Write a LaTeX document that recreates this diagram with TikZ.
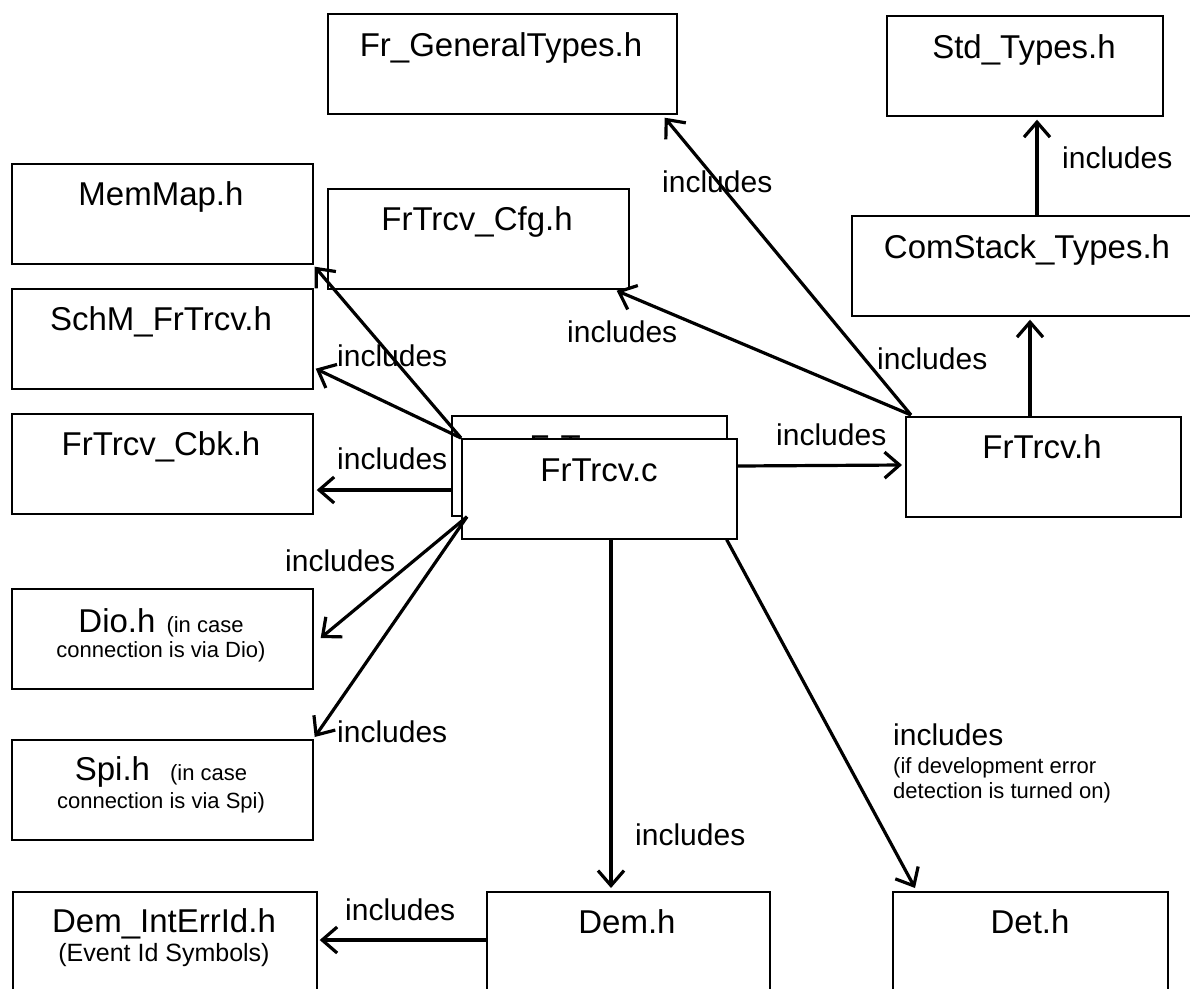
\documentclass[tikz,border=0pt]{standalone}
\usepackage{fontspec}
\setmainfont{Liberation Sans}
\usetikzlibrary{arrows.meta,calc}
\newcommand\FontBig{\fontsize{33}{40}\selectfont}
\newcommand\FontMid{\fontsize{30}{36}\selectfont}
\newcommand\FontSmall{\fontsize{22}{26}\selectfont}
\newcommand\FontEv{\fontsize{25}{30}\selectfont}
\begin{document}
\begin{tikzpicture}[x=1pt,y=-1pt,
  box/.style={draw, line width=1.7pt, minimum height=100pt, inner sep=0pt, anchor=north west, fill=white},
  boxtxt/.style={inner sep=0pt, anchor=base, font=\FontBig},
  inc/.style={inner sep=0pt, anchor=west, font=\FontMid},
  note/.style={inner sep=0pt, anchor=base west, font=\FontSmall},
  conn/.style={line width=3.2pt, -{Straight Barb[length=15pt,width=26pt]}}]
\useasboundingbox (0,0) rectangle (1190,988);
\clip (0,0) rectangle (1190,988);

% boxes
\node[box, minimum width=349pt] (frgen) at (327,13) {};
\node[boxtxt] (frgenT) at (501,56) {Fr\_GeneralTypes.h};
\node[box, minimum width=276pt] (std) at (886,15) {};
\node[boxtxt] (stdT) at (1024,58) {Std\_Types.h};
\node[box, minimum width=301pt] (memmap) at (11,163) {};
\node[boxtxt] (memmapT) at (161,205) {MemMap.h};
\node[box, minimum width=301pt] (cfg) at (327,188) {};
\node[boxtxt] (cfgT) at (477,230) {FrTrcv\_Cfg.h};
\node[box, minimum width=352pt] (comstack) at (851,215) {};
\node[boxtxt] (comstackT) at (1027,258) {ComStack\_Types.h};
\node[box, minimum width=301pt] (schm) at (11,288) {};
\node[boxtxt] (schmT) at (161,330) {SchM\_FrTrcv.h};
\node[box, minimum width=301pt] (cbk) at (11,413) {};
\node[boxtxt] (cbkT) at (161,455) {FrTrcv\_Cbk.h};
\node[box, minimum width=275pt] (frh) at (905,416) {};
\node[boxtxt] (frhT) at (1042,458) {FrTrcv.h};
\node[box, minimum width=275pt] (fbc) at (451,415) {};
\node[boxtxt] (fbcT) at (588,458) {FrTrcv.c};
\node[box, minimum width=275pt] (frc) at (461,438) {};
\node[boxtxt] (frcT) at (599,481) {FrTrcv.c};
\node[box, minimum width=301pt] (dio) at (11,588) {};
\node[boxtxt] (dioT) at (161,632) {Dio.h\hspace{11pt}{\FontSmall(in case}};
\node[boxtxt, font=\FontSmall] (dioT2) at (161,657) {connection is via Dio)};
\node[box, minimum width=301pt] (spi) at (11,739) {};
\node[boxtxt] (spiT) at (161,780) {Spi.h\hspace{20pt}{\FontSmall(in case}};
\node[boxtxt, font=\FontSmall] (spiT2) at (161,808) {connection is via Spi)};
\node[box, minimum width=304pt] (demint) at (12,891) {};
\node[boxtxt] (demintT) at (164,932) {Dem\_IntErrId.h};
\node[boxtxt, font=\FontEv] (demintT2) at (164,961) {(Event Id Symbols)};
\node[box, minimum width=283pt] (dem) at (486,891) {};
\node[boxtxt] (demT) at (627,933) {Dem.h};
\node[box, minimum width=275pt] (det) at (892,891) {};
\node[boxtxt] (detT) at (1030,933) {Det.h};

% connectors
\coordinate (hS) at ($(frh.north west)+(6,-1)$);
\draw[conn] (hS) -- ($(frgen.south east)+(-13,3)$);
\draw[conn] (hS) -- ($(cfg.south east)+(-13,1)$);
\draw[conn] ($(frh.north west)+(125,0)$) -- ($(comstack.south west)+(179,3)$);
\draw[conn] ($(comstack.north west)+(186,0)$) -- ($(std.south west)+(151,3)$);
\draw[conn] ($(frc.north east)+(0,28)$) -- ($(frh.north west)+(-3,49)$);
\draw[conn] (frc.north west) -- ($(memmap.south east)+(1,2)$);
\draw[conn] (frc.north west) -- ($(schm.south east)+(2,-21)$);
\draw[conn] ($(fbc.north west)+(0,75)$) -- ($(cbk.north east)+(3,77)$);
\coordinate (cS) at ($(frc.south west)+(6,-23)$);
\draw[conn] (cS) -- ($(dio.north east)+(7,50)$);
\draw[conn] (cS) -- ($(spi.north east)+(1,-2)$);
\draw[conn] ($(frc.south west)+(150,0)$) -- ($(dem.north west)+(125,-3)$);
\draw[conn] ($(frc.south east)+(-11,0)$) -- ($(det.north west)+(23,-3)$);
\draw[conn] ($(dem.north west)+(0,49)$) -- ($(demint.north east)+(2,49)$);

% labels
\node[inc] (i1) at (662,182) {includes};
\node[inc] (i2) at (567,332) {includes};
\node[inc] (i3) at (337,356) {includes};
\node[inc] (i4) at (337,459) {includes};
\node[inc] (i5) at (776,435) {includes};
\node[inc] (i6) at (877,359) {includes};
\node[inc] (i7) at (1062,158) {includes};
\node[inc] (i8) at (285,561) {includes};
\node[inc] (i9) at (337,732) {includes};
\node[inc] (i10) at (635,835) {includes};
\node[inc] (i11) at (893,735) {includes};
\node[note] (n11a) at (893,773) {(if development error};
\node[note] (n11b) at (893,798) {detection is turned on)};
\node[inc] (i12) at (345,910) {includes};
\end{tikzpicture}
\end{document}
